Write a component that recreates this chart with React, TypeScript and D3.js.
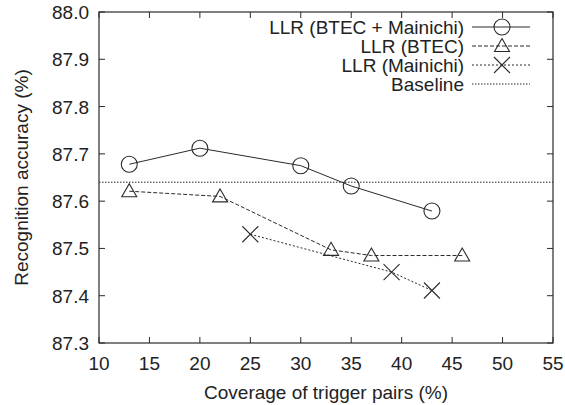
import React from "react";
import * as d3 from "d3";

const xTicks = [10, 15, 20, 25, 30, 35, 40, 45, 50, 55];
const yTicks = [87.3, 87.4, 87.5, 87.6, 87.7, 87.8, 87.9, 88.0];

const bothX = [13, 20, 30, 35, 43];
const bothY = [87.678, 87.712, 87.675, 87.632, 87.579];
const btecX = [13, 22, 33, 37, 46];
const btecY = [87.621, 87.61, 87.497, 87.485, 87.485];
const mainX = [25, 39, 43];
const mainY = [87.53, 87.45, 87.411];
const baseline = 87.64;

const legendLabels = ["LLR (BTEC + Mainichi)", "LLR (BTEC)", "LLR (Mainichi)", "Baseline"];

const W = 565, H = 405;
const L = 99, R = 553, T = 12, B = 343;
const FONT = "'Liberation Sans', Arial, Helvetica, sans-serif";
const INK = "#2a2a2a";
const FS = 19;

export default function App() {
  const x = d3.scaleLinear().domain([10, 55]).range([L, R]);
  const y = d3.scaleLinear().domain([87.3, 88.0]).range([B, T]);
  const line = d3.line<[number, number]>().x(d => x(d[0])).y(d => y(d[1]));
  const pts = (xs: number[], ys: number[]) => xs.map((v, i) => [v, ys[i]] as [number, number]);

  const circle = (cx: number, cy: number, k: string) => (
    <circle key={k} cx={cx} cy={cy} r={8} fill="none" stroke={INK} strokeWidth={1.1} />
  );
  const tri = (cx: number, cy: number, k: string) => (
    <path key={k} d={`M${cx},${cy - 7.5} L${cx + 7.5},${cy + 5.5} L${cx - 7.5},${cy + 5.5} Z`} fill="none" stroke={INK} strokeWidth={1.1} />
  );
  const cross = (cx: number, cy: number, k: string) => (
    <path key={k} d={`M${cx - 8},${cy - 8} L${cx + 8},${cy + 8} M${cx - 8},${cy + 8} L${cx + 8},${cy - 8}`} fill="none" stroke={INK} strokeWidth={1.1} />
  );

  const series = [
    { xs: bothX, ys: bothY, dash: "none", mk: circle },
    { xs: btecX, ys: btecY, dash: "4,2", mk: tri },
    { xs: mainX, ys: mainY, dash: "2,2", mk: cross },
  ];

  const legY = [27, 46, 65, 84];
  const legTextX = 464, legL = 472, legR = 530, legM = 502;

  return (
    <svg width={W} height={H} style={{ position: "absolute", left: 0, top: 0, background: "#fff" }} fontFamily={FONT}>
      <rect x={0} y={0} width={W} height={H} fill="#fff" />
      {/* baseline */}
      <line x1={L} x2={R} y1={y(baseline)} y2={y(baseline)} stroke={INK} strokeWidth={1} strokeDasharray="1.5,1.5" />
      {/* series */}
      {series.map((s, i) => (
        <g key={i}>
          <path d={line(pts(s.xs, s.ys)) || ""} fill="none" stroke={INK} strokeWidth={1} strokeDasharray={s.dash} />
          {s.xs.map((v, j) => s.mk(x(v), y(s.ys[j]), `${i}-${j}`))}
        </g>
      ))}
      {/* frame */}
      <rect x={L} y={T} width={R - L} height={B - T} fill="none" stroke={INK} strokeWidth={1.2} />
      {xTicks.map(t => (
        <g key={"x" + t}>
          <line x1={x(t)} x2={x(t)} y1={B} y2={B - 6} stroke={INK} />
          <line x1={x(t)} x2={x(t)} y1={T} y2={T + 6} stroke={INK} />
          <text x={x(t)} y={370} textAnchor="middle" fontSize={FS} fill="#222">{t}</text>
        </g>
      ))}
      {yTicks.map(t => (
        <g key={"y" + t}>
          <line x1={L} x2={L + 6} y1={y(t)} y2={y(t)} stroke={INK} />
          <line x1={R} x2={R - 6} y1={y(t)} y2={y(t)} stroke={INK} />
          <text x={89} y={y(t) + 7} textAnchor="end" fontSize={FS} fill="#222">{t.toFixed(1)}</text>
        </g>
      ))}
      <text x={(L + R) / 2} y={399} textAnchor="middle" fontSize={FS} fill="#222">Coverage of trigger pairs (%)</text>
      <text transform={`translate(28,${(T + B) / 2}) rotate(-90)`} textAnchor="middle" fontSize={FS} fill="#222">Recognition accuracy (%)</text>
      {/* legend */}
      {legendLabels.map((lab, i) => (
        <g key={"l" + i}>
          <text x={legTextX} y={legY[i] + 7} textAnchor="end" fontSize={FS} fill="#222">{lab}</text>
          <line x1={legL} x2={legR} y1={legY[i]} y2={legY[i]} stroke={INK} strokeWidth={1}
            strokeDasharray={i === 0 ? "none" : i === 1 ? "4,2" : i === 2 ? "2,2" : "1.5,1.5"} />
          {i < 3 ? series[i].mk(legM, legY[i], "lm" + i) : null}
        </g>
      ))}
    </svg>
  );
}
